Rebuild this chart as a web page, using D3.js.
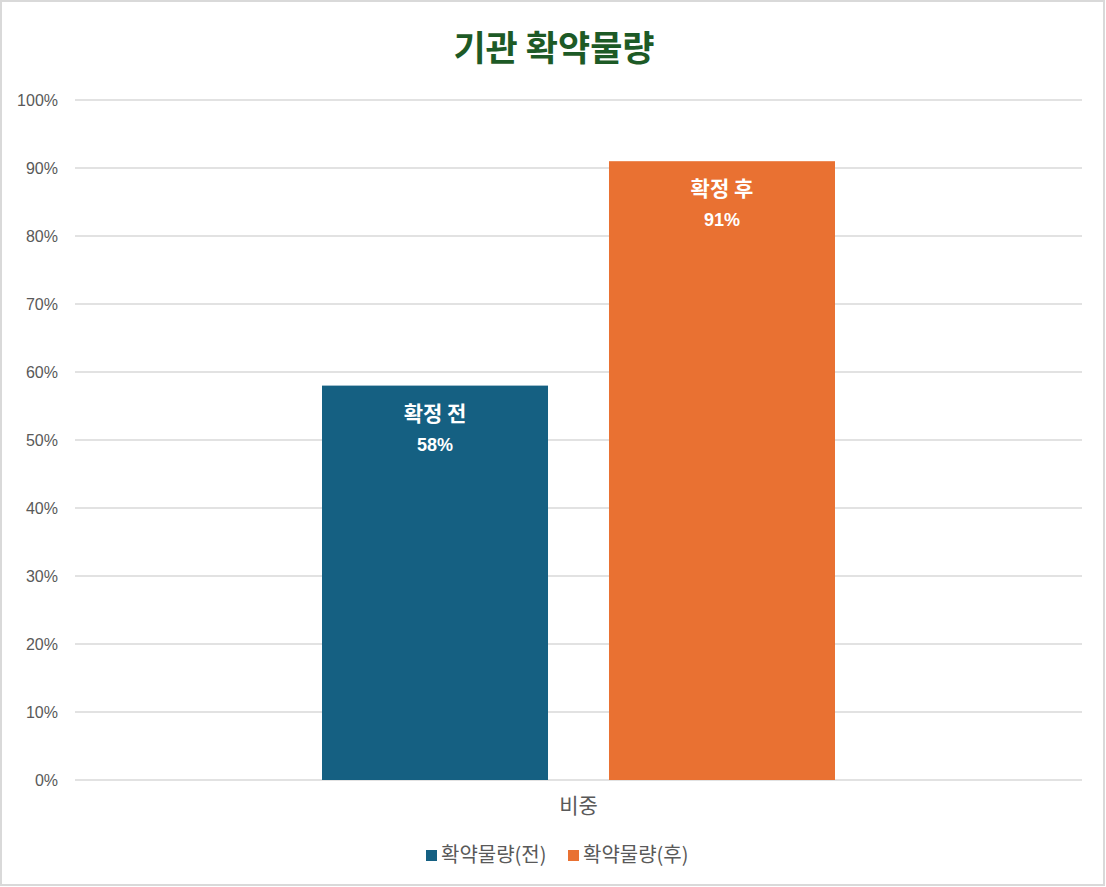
<!DOCTYPE html>
<html>
<head>
<meta charset="utf-8">
<script src="https://cdn.jsdelivr.net/npm/d3@7"></script>
<style>
    body { margin: 0; background: #fff; }
    text { font-family: "Liberation Sans", Arial, "Noto Sans CJK KR", sans-serif; }
</style>
</head>
<body>
<div id="canvas"></div>
<script>
// DATA
const categories = ["비중"];
const seriesNames = ["확약물량(전)", "확약물량(후)"];
const seriesLabels = ["확정 전", "확정 후"];
const seriesValues = [0.58, 0.91];
const seriesColors = ["#156082", "#E97132"];
const yTicks = [0, 0.1, 0.2, 0.3, 0.4, 0.5, 0.6, 0.7, 0.8, 0.9, 1.0];

// DIMENSIONS
const width = 1106;
const height = 887;
const margin = { top: 100, right: 24, bottom: 107, left: 75 };
const plot_width = width - margin.left - margin.right;
const plot_height = height - margin.top - margin.bottom;

// CANVAS
const svg = d3.select("#canvas")
    .append("svg")
    .attr("width", width)
    .attr("height", height);

svg.append("rect")
    .attr("x", 1).attr("y", 1)
    .attr("width", width - 3).attr("height", height - 3)
    .attr("fill", "#fff")
    .attr("stroke", "#d9d9d9")
    .attr("stroke-width", 2);

// TITLE
svg.append("text")
    .attr("x", 554)
    .attr("y", 61)
    .attr("text-anchor", "middle")
    .attr("font-size", 35)
    .attr("font-weight", "bold")
    .attr("fill", "#1d5a26")
    .style("font-family", "'Noto Sans CJK KR', sans-serif")
    .text("기관 확약물량");

const plot = svg.append("g")
    .attr("transform", `translate(${margin.left}, ${margin.top})`);

// SCALES
const xScale = d3.scaleBand()
    .domain(categories)
    .range([0, plot_width])
    .paddingInner(0)
    .paddingOuter(0.4815);

const xSub = d3.scaleBand()
    .domain(seriesNames)
    .range([0, xScale.bandwidth()])
    .paddingInner(0.2125);

const yScale = d3.scaleLinear()
    .domain([0, 1])
    .range([plot_height, 0]);

// GRID
plot.append("g")
    .selectAll("line")
    .data(yTicks)
    .enter()
    .append("line")
    .attr("x1", 0)
    .attr("x2", plot_width)
    .attr("y1", d => yScale(d))
    .attr("y2", d => yScale(d))
    .attr("stroke", "#d9d9d9")
    .attr("stroke-width", 1.5);

// Y AXIS
const yAx = d3.axisLeft(yScale)
    .tickValues(yTicks)
    .tickFormat(d3.format(".0%"))
    .tickSize(0)
    .tickPadding(17);

const yaxis = plot.append("g").call(yAx);
yaxis.select(".domain").remove();
yaxis.selectAll("text")
    .attr("font-size", 16)
    .attr("fill", "#595959");

// X AXIS
const xAx = d3.axisBottom(xScale).tickSize(0).tickPadding(18);
const xaxis = plot.append("g")
    .attr("transform", `translate(0, ${plot_height})`)
    .call(xAx);
xaxis.select(".domain").remove();
xaxis.selectAll("text")
    .attr("font-size", 21)
    .attr("fill", "#595959")
    .style("font-family", "'Noto Sans CJK KR', sans-serif");

// BARS
const bars = seriesNames.map((s, i) => ({ name: s, label: seriesLabels[i], value: seriesValues[i], color: seriesColors[i] }));

const group = plot.append("g")
    .attr("transform", `translate(${xScale(categories[0])}, 0)`);

group.selectAll("rect")
    .data(bars)
    .enter()
    .append("rect")
    .attr("x", d => xSub(d.name))
    .attr("y", d => yScale(d.value))
    .attr("width", xSub.bandwidth())
    .attr("height", d => plot_height - yScale(d.value))
    .attr("fill", d => d.color);

// BAR LABELS
group.selectAll(".lbl1")
    .data(bars)
    .enter()
    .append("text")
    .attr("x", d => xSub(d.name) + xSub.bandwidth() / 2)
    .attr("y", d => yScale(d.value) + 35)
    .attr("text-anchor", "middle")
    .attr("font-size", 21)
    .attr("font-weight", "bold")
    .attr("fill", "#fff")
    .style("font-family", "'Noto Sans CJK KR', sans-serif")
    .text(d => d.label);

group.selectAll(".lbl2")
    .data(bars)
    .enter()
    .append("text")
    .attr("x", d => xSub(d.name) + xSub.bandwidth() / 2)
    .attr("y", d => yScale(d.value) + 65)
    .attr("text-anchor", "middle")
    .attr("font-size", 18)
    .attr("font-weight", "bold")
    .attr("fill", "#fff")
    .text(d => d3.format(".0%")(d.value));

// LEGEND
const legendX = [426, 568];
const legend = svg.append("g");
bars.forEach((d, i) => {
    legend.append("rect")
        .attr("x", legendX[i])
        .attr("y", 850)
        .attr("width", 11)
        .attr("height", 11)
        .attr("fill", d.color);
    legend.append("text")
        .attr("x", legendX[i] + 15)
        .attr("y", 862)
        .attr("font-size", 20)
        .attr("fill", "#595959")
        .style("font-family", "'Noto Sans CJK KR', sans-serif")
        .text(d.name);
});
</script>
</body>
</html>
